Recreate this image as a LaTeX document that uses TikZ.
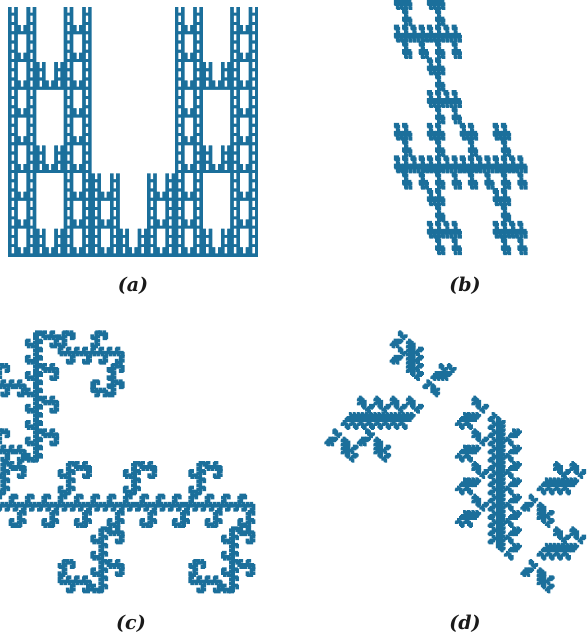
\documentclass[tikz,border=0pt]{standalone}
\usepackage{fontspec}
\setmainfont{DejaVu Serif}
\definecolor{fractalblue}{HTML}{1B6F9B}
\definecolor{labelink}{HTML}{1A1A1A}
\newcount\ux \newcount\uy \newcount\ox \newcount\oy
\newcount\lw \newcount\lh
% IFS recursion: depth a b c d tx ty
\def\ifsrec#1#2#3#4#5#6#7{%
  \ifnum#1=0
    \pgfpathrectangle
      {\pgfqpoint{\numexpr(#6+(#2+#3)/2)*\ux+\ox-\lw/2\relax sp}{\numexpr(#7+(#4+#5)/2)*\uy+\oy-\lh/2\relax sp}}
      {\pgfqpoint{\lw sp}{\lh sp}}%
  \else
    \ifsmaps{#1}{#2}{#3}{#4}{#5}{#6}{#7}%
    \ifnum#1=3 \pgfusepath{fill}\fi
  \fi}
% half turn: cx cy (quarters) depth a b c d tx ty
\def\mapR#1#2#3#4#5#6#7#8#9{%
  \edef\nextstep{\noexpand\ifsrec{\the\numexpr#3-1}{\the\numexpr0-(#4)/2}{\the\numexpr0-(#5)/2}{\the\numexpr0-(#6)/2}{\the\numexpr0-(#7)/2}{\the\numexpr#8+((#4)*#1+(#5)*#2)/4}{\the\numexpr#9+((#6)*#1+(#7)*#2)/4}}\nextstep}
% clockwise quarter turn
\def\mapC#1#2#3#4#5#6#7#8#9{%
  \edef\nextstep{\noexpand\ifsrec{\the\numexpr#3-1}{\the\numexpr0-(#5)/2}{\the\numexpr(#4)/2}{\the\numexpr0-(#7)/2}{\the\numexpr(#6)/2}{\the\numexpr#8+((#4)*#1+(#5)*#2)/4}{\the\numexpr#9+((#6)*#1+(#7)*#2)/4}}\nextstep}
% carpet holes: depth x y s
\newcount\holeinset \newcount\holebleed \newcount\holefoot
\holeinset=23000 \holebleed=13000 \holefoot=20000
\def\recA#1#2#3#4{%
  \ifnum#4>81
    \pgfpathrectangle
      {\pgfqpoint{\numexpr(#2+#4/3)*\ux+\ox\relax sp}{\numexpr(#3+#4/3)*\uy+\oy\relax sp}}
      {\pgfqpoint{\numexpr(#4/3)*\ux\relax sp}{\numexpr(2*#4/3)*\uy+\holebleed\relax sp}}%
  \else
    \pgfpathrectangle
      {\pgfqpoint{\numexpr(#2+#4/3)*\ux+\ox+\holeinset\relax sp}{\numexpr(#3+#4/3)*\uy+\oy+\holefoot\relax sp}}
      {\pgfqpoint{\numexpr(#4/3)*\ux-2*\holeinset\relax sp}{\numexpr(2*#4/3)*\uy+\holebleed-\holefoot\relax sp}}%
  \fi
  \ifnum#1>1
    \edef\cellstep{\the\numexpr#4/3\relax}%
    \expandafter\recAkids\expandafter{\cellstep}{#1}{#2}{#3}%
  \fi
  \ifnum#1=3 \pgfusepath{fill}\fi}
\def\recAkids#1#2#3#4{%
  \recAcall{#2}{#3}{#4}{#1}{0}{0}\recAcall{#2}{#3}{#4}{#1}{1}{0}\recAcall{#2}{#3}{#4}{#1}{2}{0}%
  \recAcall{#2}{#3}{#4}{#1}{0}{1}\recAcall{#2}{#3}{#4}{#1}{2}{1}%
  \recAcall{#2}{#3}{#4}{#1}{0}{2}\recAcall{#2}{#3}{#4}{#1}{2}{2}}
\def\recAcall#1#2#3#4#5#6{%
  \edef\nextA{\noexpand\recA{\the\numexpr#1-1}{\the\numexpr#2+#5*#4}{\the\numexpr#3+#6*#4}{#4}}\nextA}
\tikzset{panellabel/.style={font=\fontsize{19}{21}\selectfont\bfseries\itshape,text=labelink,inner sep=0pt}}
\begin{document}
\begin{tikzpicture}[x=1pt,y=1pt]
\useasboundingbox (0,0) rectangle (586,639);
\clip (0,0) rectangle (586,639);
% (a)
\fill[fractalblue] (8.3,382.3) rectangle (258.3,632.3);
\begin{pgfscope}
\pgfsetfillcolor{white}
\ux=67423 \uy=67423 \ox=543949 \oy=25055000
\recA{4}{0}{0}{243}
\end{pgfscope}
\lw=170000 \lh=170000
% (b)
\begin{pgfscope}
\pgfsetfillcolor{fractalblue}
\ux=8420 \uy=16730 \ox=25885000 \oy=25215000
\def\ifsmaps#1#2#3#4#5#6#7{\mapR{2}{2}{#1}{#2}{#3}{#4}{#5}{#6}{#7}\mapR{4}{2}{#1}{#2}{#3}{#4}{#5}{#6}{#7}\mapR{2}{4}{#1}{#2}{#3}{#4}{#5}{#6}{#7}}
\ifsrec{8}{1024}{0}{0}{1024}{0}{0}
\end{pgfscope}
% (c)
\begin{pgfscope}
\pgfsetfillcolor{fractalblue}
\ux=16730 \uy=16730 \ox=-455000 \oy=3044000
\def\ifsmaps#1#2#3#4#5#6#7{\mapR{2}{2}{#1}{#2}{#3}{#4}{#5}{#6}{#7}\mapR{4}{2}{#1}{#2}{#3}{#4}{#5}{#6}{#7}\mapC{0}{4}{#1}{#2}{#3}{#4}{#5}{#6}{#7}}
\ifsrec{8}{1024}{0}{0}{1024}{0}{0}
\end{pgfscope}
% (d)
\begin{pgfscope}
\pgfsetfillcolor{fractalblue}
\ux=16730 \uy=16730 \ox=21303000 \oy=3044000
\def\ifsmaps#1#2#3#4#5#6#7{\mapR{4}{3}{#1}{#2}{#3}{#4}{#5}{#6}{#7}\mapR{4}{2}{#1}{#2}{#3}{#4}{#5}{#6}{#7}\mapC{0}{4}{#1}{#2}{#3}{#4}{#5}{#6}{#7}}
\ifsrec{8}{1024}{0}{0}{1024}{0}{0}
\end{pgfscope}
\node[panellabel] (labela) at (133,353) {(a)};
\node[panellabel] (labelb) at (465,353) {(b)};
\node[panellabel] (labelc) at (131,15) {(c)};
\node[panellabel] (labeld) at (465,15) {(d)};
\end{tikzpicture}
\end{document}
